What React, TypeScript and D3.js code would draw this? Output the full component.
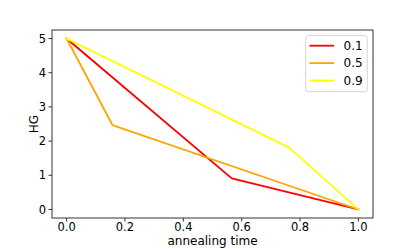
import React from "react";
import * as d3 from "d3";

const series = [
  { label: "0.1", color: "red", xs: [0, 0.566, 1], ys: [5, 0.91, 0] },
  { label: "0.5", color: "orange", xs: [0, 0.157, 1], ys: [5, 2.47, 0] },
  { label: "0.9", color: "yellow", xs: [0, 0.763, 1], ys: [5, 1.81, 0] },
];
const xTicks = [0, 0.2, 0.4, 0.6, 0.8, 1.0];
const yTicks = [0, 1, 2, 3, 4, 5];

const W = 415, H = 249;
const L = 52, R = 373, T = 30, B = 218;

export default function App() {
  const x = d3.scaleLinear().domain([-0.05, 1.05]).range([L, R]);
  const y = d3.scaleLinear().domain([-0.25, 5.25]).range([B, T]);
  const line = d3.line<[number, number]>().x(d => x(d[0])).y(d => y(d[1]));
  const font = "DejaVu Sans, sans-serif";
  return (
    <svg width={W} height={H} style={{ position: "absolute", left: 0, top: 0 }} fontFamily={font}>
      <rect x={0} y={0} width={W} height={H} fill="white" />
      {series.map(s => (
        <path key={s.label} d={line(s.xs.map((v, i) => [v, s.ys[i]]) as [number, number][]) || ""}
          fill="none" stroke={s.color} strokeWidth={1.8} strokeLinejoin="round" strokeLinecap="square" />
      ))}
      <rect x={L} y={T} width={R - L} height={B - T} fill="none" stroke="#333" strokeWidth={1} />
      {xTicks.map(t => (
        <g key={"x" + t}>
          <line x1={x(t)} x2={x(t)} y1={B} y2={B + 3.5} stroke="#333" strokeWidth={1} />
          <text x={x(t)} y={230.8} fontSize={11.5} textAnchor="middle" fill="#000">{t.toFixed(1)}</text>
        </g>
      ))}
      {yTicks.map(t => (
        <g key={"y" + t}>
          <line x1={L - 3.5} x2={L} y1={y(t)} y2={y(t)} stroke="#333" strokeWidth={1} />
          <text x={L - 6} y={y(t)} dy="0.36em" fontSize={11.5} textAnchor="end" fill="#000">{t}</text>
        </g>
      ))}
      <text x={(L + R) / 2} y={244.5} fontSize={12} textAnchor="middle">annealing time</text>
      <text transform={`translate(38,${(T + B) / 2}) rotate(-90)`} fontSize={12} textAnchor="middle">HG</text>
      <g>
        <rect x={305.7} y={35.7} width={61.6} height={56} rx={2.5} fill="white" fillOpacity={0.8} stroke="#d6d6d6" strokeWidth={1} />
        {series.map((s, i) => (
          <g key={"lg" + s.label}>
            <line x1={309.5} x2={334} y1={45.7 + i * 17.4} y2={45.7 + i * 17.4} stroke={s.color} strokeWidth={1.8} />
            <text x={343.5} y={45.7 + i * 17.4} dy="0.36em" fontSize={12}>{s.label}</text>
          </g>
        ))}
      </g>
    </svg>
  );
}
